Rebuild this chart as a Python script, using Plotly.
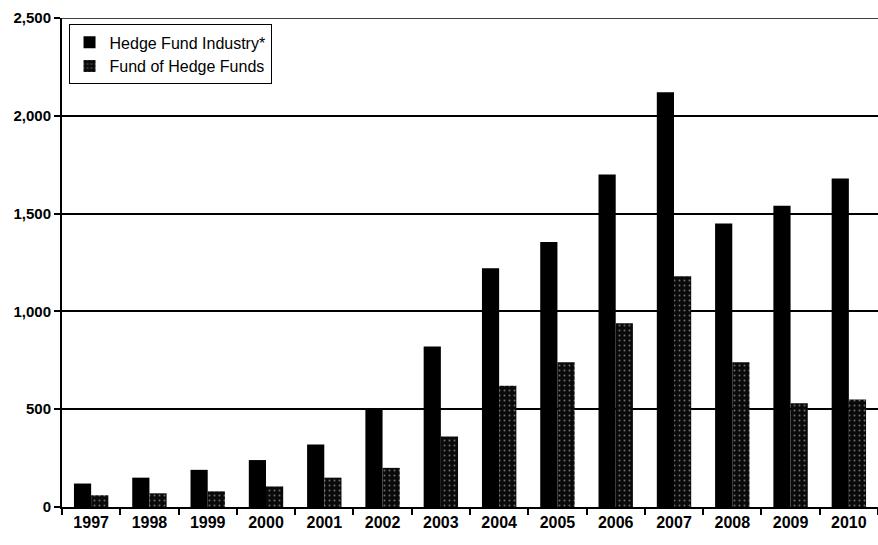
import plotly.graph_objects as go

years = ["1997", "1998", "1999", "2000", "2001", "2002", "2003",
         "2004", "2005", "2006", "2007", "2008", "2009", "2010"]
hedge_fund_industry = [120, 150, 190, 240, 320, 500, 820,
                       1220, 1355, 1700, 2120, 1450, 1540, 1680]
fund_of_hedge_funds = [60, 70, 80, 105, 150, 200, 360,
                       620, 740, 940, 1180, 740, 530, 550]
y_ticks = [0, 500, 1000, 1500, 2000, 2500]
y_tick_text = ["0", "500", "1,000", "1,500", "2,000", "2,500"]

font_family = "Liberation Sans Narrow, Arial Narrow, Liberation Sans, Arial"

fig = go.Figure()
fig.add_trace(go.Bar(
    x=years, y=hedge_fund_industry, name="Hedge Fund Industry*",
    marker=dict(color="#000000", line=dict(width=0)),
))
fig.add_trace(go.Bar(
    x=years, y=fund_of_hedge_funds, name="Fund of Hedge Funds",
    marker=dict(color="#111111", line=dict(width=0),
                pattern=dict(shape=".", fgcolor="#d0d0d0", bgcolor="#0a0a0a",
                             size=5, solidity=0.12)),
))

fig.add_shape(type="line", xref="paper", yref="y", x0=0, x1=1,
              y0=y_ticks[-1], y1=y_ticks[-1],
              line=dict(color="black", width=1.5))

fig.update_layout(
    width=878, height=545,
    margin=dict(l=62, r=0, t=18, b=38),
    paper_bgcolor="white", plot_bgcolor="white",
    barmode="group", bargap=0.41, bargroupgap=0,
    font=dict(family=font_family, size=14, color="black", weight="bold"),
    showlegend=True,
    legend=dict(x=0.008, y=0.987, xanchor="left", yanchor="top",
                bordercolor="black", borderwidth=1, bgcolor="white",
                font=dict(size=16, weight="normal"), itemwidth=30,
                tracegroupgap=2),
    xaxis=dict(
        type="category", showgrid=False, showline=True, linecolor="black",
        linewidth=2, ticks="outside", tickson="boundaries", ticklen=6,
        tickcolor="black", tickwidth=2,
        tickfont=dict(size=16, family=font_family, weight="bold"),
    ),
    yaxis=dict(
        range=[0, 2500], tickvals=y_ticks, ticktext=y_tick_text,
        showgrid=True, gridcolor="black", gridwidth=1.5,
        showline=True, linecolor="black", linewidth=2,
        ticks="outside", ticklen=6, tickcolor="black", tickwidth=1.5,
        zeroline=False,
        tickfont=dict(size=15, family=font_family, weight="bold"),
    ),
)

fig.write_html("out.html")
